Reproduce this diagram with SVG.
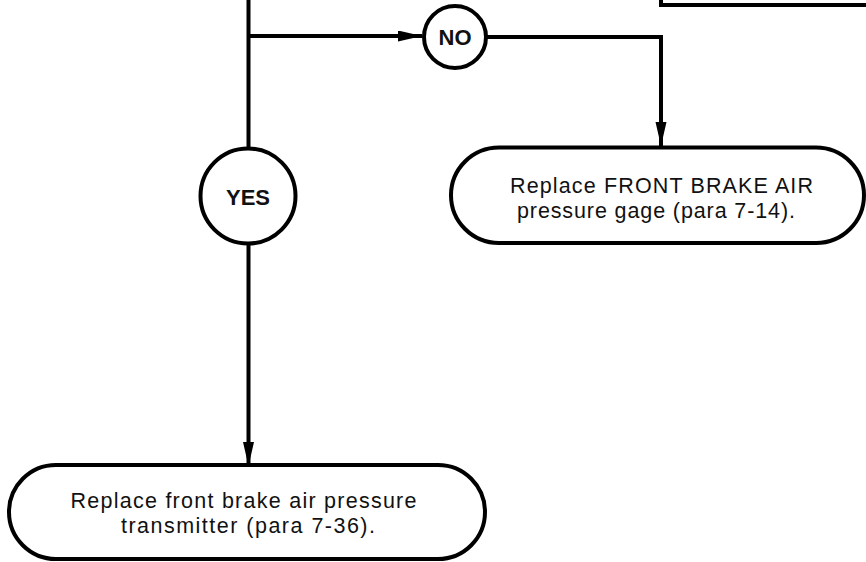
<svg xmlns="http://www.w3.org/2000/svg" width="866" height="562" viewBox="0 0 866 562">
<style>
.ln{fill:none;stroke:#000;stroke-width:4}
.nd{fill:#fff;stroke:#000;stroke-width:4}
.t{font-family:"Liberation Sans",Arial,sans-serif;font-size:21.5px;fill:#111;text-anchor:middle}
.b{font-family:"Liberation Sans",Arial,sans-serif;font-size:22px;font-weight:bold;fill:#111;text-anchor:middle}
</style>
<defs>
<marker id="ah" markerUnits="userSpaceOnUse" markerWidth="25" markerHeight="12" refX="24" refY="5.5" orient="auto">
<path d="M0,0 L24,5.5 L0,11 z" fill="#000"/>
</marker>
</defs>
<g id="connectors">
<path class="ln" d="M248.5,0 V149"/>
<path class="ln" d="M248.5,36 H422" marker-end="url(#ah)"/>
<path class="ln" d="M486,37 H661 V146" marker-end="url(#ah)"/>
<path class="ln" d="M248.5,243 V466" marker-end="url(#ah)"/>
<path class="ln" d="M661,0 V5 H866"/>
</g>
<g id="no">
<circle class="nd" cx="455" cy="37" r="31"/>
<text class="b" x="455" y="45">NO</text>
</g>
<g id="yes">
<circle class="nd" cx="248" cy="196" r="47.5"/>
<text class="b" x="248" y="205">YES</text>
</g>
<g id="replace-gage">
<rect class="nd" x="451" y="147.5" width="413" height="95.5" rx="48" ry="47.75"/>
<text class="t" x="661.5" y="193" textLength="303" lengthAdjust="spacing">Replace FRONT BRAKE AIR</text>
<text class="t" x="656" y="218" textLength="278" lengthAdjust="spacing">pressure gage (para 7-14).</text>
</g>
<g id="replace-transmitter">
<rect class="nd" x="9" y="465" width="476" height="94" rx="47" ry="47"/>
<text class="t" x="243.5" y="508" textLength="346" lengthAdjust="spacing">Replace front brake air pressure</text>
<text class="t" x="248" y="533" textLength="254" lengthAdjust="spacing">transmitter (para 7-36).</text>
</g>
</svg>
